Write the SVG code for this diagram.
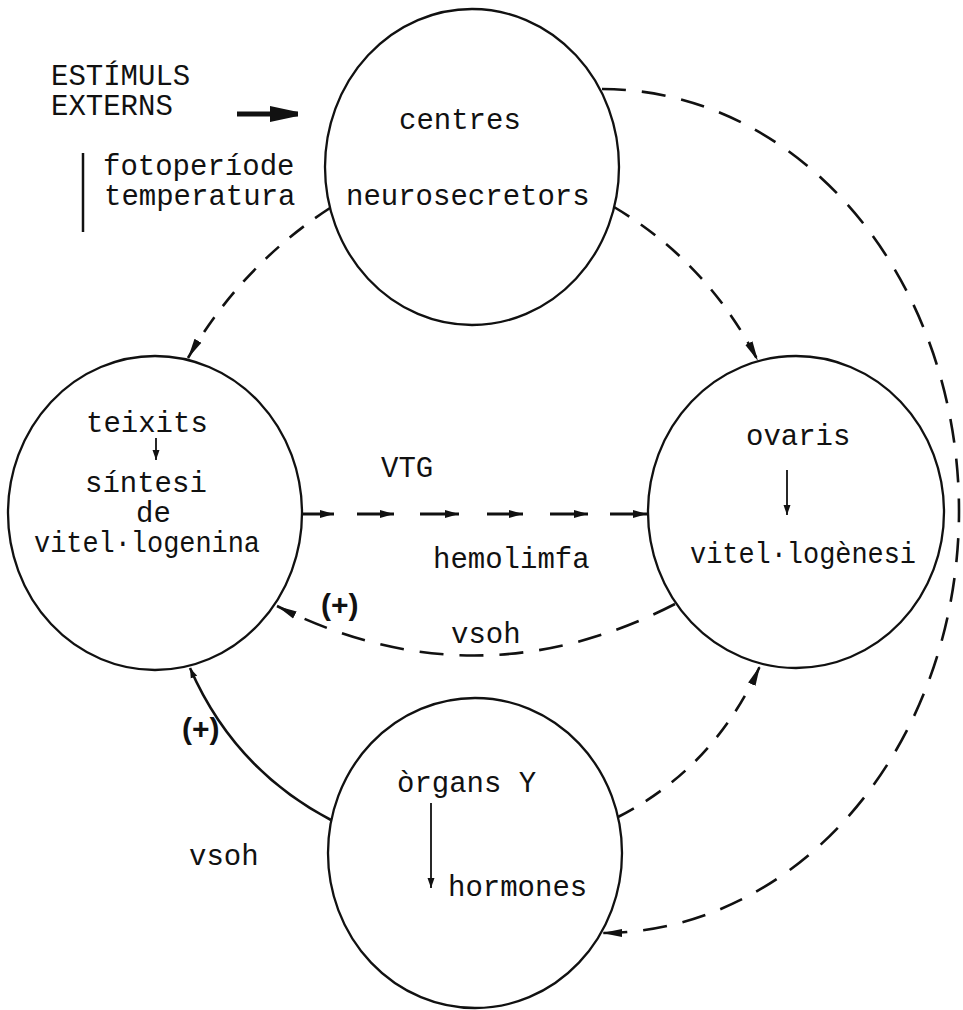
<svg xmlns="http://www.w3.org/2000/svg" width="963" height="1010" viewBox="0 0 963 1010">
<defs>
<style>
.node{fill:none;stroke:#111;stroke-width:2.3}
.t{font-family:"Liberation Mono","Courier New",monospace;font-size:29px;fill:#111}
.p{font-family:"Liberation Sans",Arial,sans-serif;font-size:30px;font-weight:bold;fill:#111}
.c{fill:none;stroke:#111;stroke-width:2.6}
.v{fill:none;stroke:#111;stroke-width:3}
.d1{stroke-dasharray:18 14}
.d2{stroke-dasharray:24 16}
.thin{fill:none;stroke:#111;stroke-width:1.8}
</style>
<marker id="ah" viewBox="0 0 20 10" refX="20" refY="5" markerWidth="20" markerHeight="10" markerUnits="userSpaceOnUse" orient="auto"><path d="M0,1 L20,5 L0,9 z" fill="#111"/></marker>
<marker id="vh" viewBox="0 0 14 9" refX="14" refY="4.5" markerWidth="14" markerHeight="9" markerUnits="userSpaceOnUse" orient="auto"><path d="M0,0.5 L14,4.5 L0,8.5 z" fill="#111"/></marker>
<marker id="sh" viewBox="0 0 10 8" refX="10" refY="4" markerWidth="10" markerHeight="8" markerUnits="userSpaceOnUse" orient="auto"><path d="M0,0.5 L10,4 L0,7.5 z" fill="#111"/></marker>
<marker id="bh" viewBox="0 0 28 16" refX="28" refY="8" markerWidth="28" markerHeight="16" markerUnits="userSpaceOnUse" orient="auto"><path d="M0,0 L28,6 L28,10 L0,16 z" fill="#111"/></marker>
</defs>
<rect width="963" height="1010" fill="#fff"/>

<g id="stimuli">
<text class="t" x="51" y="85">ESTÍMULS</text>
<text class="t" x="51" y="115">EXTERNS</text>
<line x1="83" y1="153" x2="83" y2="232" stroke="#111" stroke-width="2.5"/>
<text class="t" x="103" y="175">fotoperíode</text>
<text class="t" x="104" y="205">temperatura</text>
</g>

<g id="centres">
<ellipse class="node" cx="472" cy="167" rx="147" ry="158"/>
<text class="t" x="399" y="129">centres</text>
<text class="t" x="346" y="205">neurosecretors</text>
</g>

<g id="teixits">
<ellipse class="node" cx="155" cy="513" rx="147" ry="157"/>
<text class="t" x="86" y="432">teixits</text>
<line class="thin" x1="156" y1="438" x2="156" y2="460" marker-end="url(#sh)"/>
<text class="t" x="85" y="492">síntesi</text>
<text class="t" x="136" y="522">de</text>
<text class="t" x="34" y="552" textLength="226" lengthAdjust="spacingAndGlyphs">vitel·logenina</text>
</g>

<g id="ovaris">
<ellipse class="node" cx="796" cy="512" rx="148" ry="156"/>
<text class="t" x="746" y="445">ovaris</text>
<line class="thin" x1="787" y1="470" x2="787" y2="515" marker-end="url(#sh)"/>
<text class="t" x="690" y="563" textLength="226" lengthAdjust="spacingAndGlyphs">vitel·logènesi</text>
</g>

<g id="organsY">
<ellipse class="node" cx="475" cy="853" rx="147" ry="155"/>
<text class="t" x="397" y="792">òrgans Y</text>
<line class="thin" x1="431" y1="803" x2="431" y2="888" marker-end="url(#sh)"/>
<text class="t" x="448" y="896">hormones</text>
</g>

<g id="connectors">
<line x1="237" y1="114" x2="298" y2="114" stroke="#111" stroke-width="5" marker-end="url(#bh)"/>
<path class="c d1" d="M330,208 Q241,266 188,358" marker-end="url(#ah)"/>
<path class="c d1" d="M614,207 Q708,263 758,361" marker-end="url(#ah)"/>
<path class="c d2" d="M602,89 A357,422 0 0 1 602,933" marker-end="url(#ah)"/>
<g class="v">
<line x1="302" y1="514" x2="334" y2="514" marker-end="url(#vh)"/>
<line x1="357" y1="514" x2="394" y2="514" marker-end="url(#vh)"/>
<line x1="420" y1="514" x2="459" y2="514" marker-end="url(#vh)"/>
<line x1="487" y1="514" x2="523" y2="514" marker-end="url(#vh)"/>
<line x1="550" y1="514" x2="588" y2="514" marker-end="url(#vh)"/>
<line x1="610" y1="514" x2="647" y2="514" marker-end="url(#vh)"/>
</g>
<path class="c d2" d="M675,604 Q476,706 277,606" marker-end="url(#ah)"/>
<path class="c" d="M331,820 Q234,769 190,668" marker-end="url(#sh)"/>
<path class="c d1" d="M618,817 Q714,768 760,666" marker-end="url(#ah)"/>
<text class="t" x="381" y="477">VTG</text>
<text class="t" x="433" y="568">hemolimfa</text>
<text class="t" x="451" y="643">vsoh</text>
<text class="t" x="189" y="865">vsoh</text>
<text class="p" x="321" y="615">(+)</text>
<text class="p" x="182" y="739">(+)</text>
</g>
</svg>
